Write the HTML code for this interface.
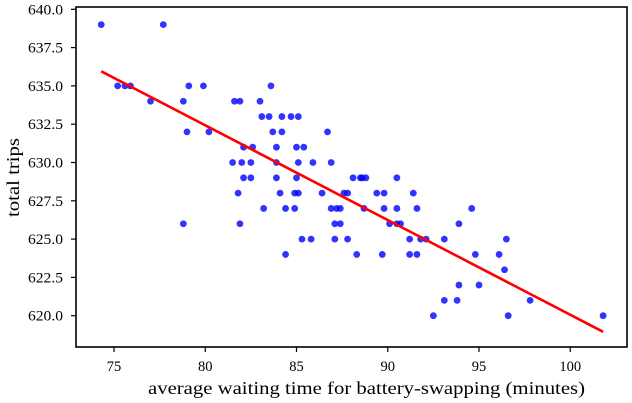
<!DOCTYPE html>
<html><head><meta charset="utf-8"><style>
html,body{margin:0;padding:0;background:#fff;}
svg{display:block;font-family:"Liberation Serif",serif;}
</style></head><body>
<svg id="chart" width="632" height="403">
<g id="plot"></g>
</svg>
<script>
const xValues=[74.3,77.7,75.2,75.6,75.9,79.1,79.9,83.6,77.0,78.8,81.6,81.9,83.0,83.1,83.5,84.2,84.7,85.1,79.0,80.2,83.7,84.2,86.7,82.1,82.6,83.9,85.0,85.4,81.5,82.0,82.5,83.9,85.1,85.9,86.9,82.1,82.5,83.9,85.0,88.1,88.5,88.6,88.8,90.5,81.8,84.1,84.9,85.1,86.4,87.6,87.8,89.4,89.8,91.4,83.2,84.4,84.9,86.9,87.2,87.4,88.7,89.8,90.5,91.6,94.6,78.8,81.9,87.1,87.4,90.1,90.5,90.7,93.9,85.3,85.8,87.1,87.8,91.2,91.8,92.1,93.1,96.5,84.4,88.3,89.7,91.2,91.6,94.8,96.1,96.4,93.9,95.0,93.1,93.8,97.8,92.5,96.6,101.8];
const yValues=[639,639,635,635,635,635,635,635,634,634,634,634,634,633,633,633,633,633,632,632,632,632,632,631,631,631,631,631,630,630,630,630,630,630,630,629,629,629,629,629,629,629,629,629,628,628,628,628,628,628,628,628,628,628,627,627,627,627,627,627,627,627,627,627,627,626,626,626,626,626,626,626,626,625,625,625,625,625,625,625,625,625,624,624,624,624,624,624,624,623,622,622,621,621,621,620,620,620];
const xTicks=[75,80,85,90,95,100];
const yTicks=[620,622.5,625,627.5,630,632.5,635,637.5,640];

const L=76,R=627,T=7,B=347;
const sx=v=>114+(v-75)*18.25;
const sy=v=>315.7-(v-620)*15.32;
const NS="http://www.w3.org/2000/svg";
const g=document.getElementById('plot');
function mk(t,a){const e=document.createElementNS(NS,t);for(const k in a)e.setAttribute(k,a[k]);g.appendChild(e);return e;}

xValues.forEach((x,i)=>{
  const c=mk('circle',{cx:sx(x),cy:sy(yValues[i]),r:3.4,fill:'#0000ff','fill-opacity':0.8});
  
  
});
const n=xValues.length;let mx=0,my=0;xValues.forEach((x,i)=>{mx+=x;my+=yValues[i];});mx/=n;my/=n;
let sxy=0,sxx=0;xValues.forEach((x,i)=>{sxy+=(x-mx)*(yValues[i]-my);sxx+=(x-mx)*(x-mx);});
const slope=sxy/sxx,icpt=my-slope*mx;
const x0=Math.min(...xValues),x1=Math.max(...xValues);
const ln=mk('line',{x1:sx(x0),y1:sy(icpt+slope*x0),x2:sx(x1),y2:sy(icpt+slope*x1),stroke:'#ff0000','stroke-width':2.6});



const fr=mk('rect',{x:L,y:T,width:R-L,height:B-T,fill:'none',stroke:'#000','stroke-width':1.6});



xTicks.forEach(v=>{
  const tk=mk('line',{x1:sx(v),x2:sx(v),y1:B,y2:B+5,stroke:'#000','stroke-width':1.2});
  
  
  const t=mk('text',{x:sx(v),y:371,'text-anchor':'middle','font-size':14.5});
  t.textContent=v;
  
  
});
yTicks.forEach(v=>{
  const tk=mk('line',{x1:L-5,x2:L,y1:sy(v),y2:sy(v),stroke:'#000','stroke-width':1.2});
  
  
  const t=mk('text',{x:L-48,y:sy(v)+5,'font-size':14.5,textLength:35,lengthAdjust:'spacingAndGlyphs'});
  t.textContent=v.toFixed(1);
  
  
});
const xl=mk('text',{x:148,y:394,'font-size':18,textLength:437,lengthAdjust:'spacingAndGlyphs'});
xl.textContent='average waiting time for battery-swapping (minutes)';


const yl=mk('text',{x:0,y:0,'font-size':18,textLength:79,lengthAdjust:'spacingAndGlyphs',transform:'translate(19,217) rotate(-90)'});
yl.textContent='total trips';


</script>
</body></html>
